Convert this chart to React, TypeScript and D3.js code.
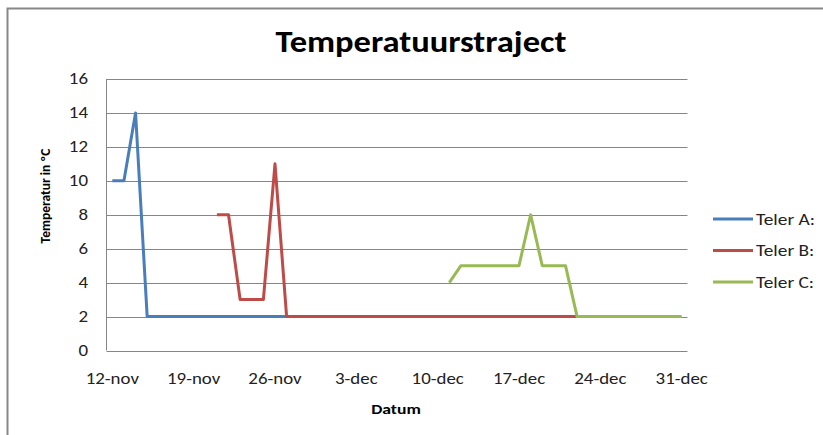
import React from "react";
import * as d3 from "d3";

const tickDates = ["2012-11-12", "2012-11-19", "2012-11-26", "2012-12-03", "2012-12-10", "2012-12-17", "2012-12-24", "2012-12-31"];
const tickLabels = ["12-nov", "19-nov", "26-nov", "3-dec", "10-dec", "17-dec", "24-dec", "31-dec"];
const yTicks = [0, 2, 4, 6, 8, 10, 12, 14, 16];

const telerADates = ["2012-11-12", "2012-11-13", "2012-11-14", "2012-11-15", "2012-11-27"];
const telerAValues = [10, 10, 14, 2, 2];
const telerBDates = ["2012-11-21", "2012-11-22", "2012-11-23", "2012-11-25", "2012-11-26", "2012-11-27", "2012-12-22"];
const telerBValues = [8, 8, 3, 3, 11, 2, 2];
const telerCDates = ["2012-12-11", "2012-12-12", "2012-12-17", "2012-12-18", "2012-12-19", "2012-12-21", "2012-12-22", "2012-12-31"];
const telerCValues = [4, 5, 5, 8, 5, 5, 2, 2];

const seriesNames = ["Teler A:", "Teler B:", "Teler C:"];
const seriesColors = ["#4A7EBB", "#BE4B48", "#98B954"];

const parse = d3.timeParse("%Y-%m-%d");
const font = "Calibri, Carlito, 'Open Sans', sans-serif";

function T(props: { x: number; y: number; sx: number; size: number; anchor?: string; bold?: boolean; fill?: string; children: React.ReactNode }) {
  return (
    <text
      transform={`translate(${props.x},${props.y}) scale(${props.sx},1)`}
      textAnchor={props.anchor || "start"}
      fontFamily={font}
      fontWeight={props.bold ? "bold" : "normal"}
      fontSize={props.size}
      fill={props.fill || "#222"}
    >
      {props.children}
    </text>
  );
}

export default function App() {
  const W = 823, H = 435;
  const first = parse(tickDates[0])!;
  const last = parse(tickDates[tickDates.length - 1])!;
  const x = d3.scaleTime()
    .domain([d3.timeHour.offset(first, -12), d3.timeHour.offset(last, 12)])
    .range([106.5, 687.5]);
  const y = d3.scaleLinear().domain([0, 16]).range([350.5, 79]);

  const series = [
    { dates: telerADates, values: telerAValues },
    { dates: telerBDates, values: telerBValues },
    { dates: telerCDates, values: telerCValues },
  ].map((s) => s.dates.map((d, i) => ({ date: parse(d)!, v: s.values[i] })));

  const line = d3.line<{ date: Date; v: number }>()
    .x((p) => x(p.date))
    .y((p) => y(p.v));

  const [x0, x1] = x.range();

  return (
    <svg width={W} height={H} style={{ position: "absolute", left: 0, top: 0, display: "block" }}>
      <rect x={0} y={0} width={W} height={H} fill="#fff" />
      <path d={`M7.5,${H + 5}V8.5H${W + 5}`} fill="none" stroke="#878787" strokeWidth={2} />
      <T x={421} y={52} sx={1.15} size={30} anchor="middle" bold fill="#000">Temperatuurstraject</T>
      {yTicks.map((t) => (
        <g key={t}>
          <line x1={x0} x2={x1} y1={Math.round(y(t)) + 0.5} y2={Math.round(y(t)) + 0.5} stroke="#868686" strokeWidth={1} />
          <T x={88} y={y(t) + 5} sx={1.22} size={15.5} anchor="end">{t}</T>
        </g>
      ))}
      <line x1={x0} x2={x0} y1={y(16)} y2={y(0)} stroke="#868686" strokeWidth={1} />
      {tickDates.map((d, i) => (
        <T key={d} x={x(parse(d)!)} y={384} sx={1.22} size={15.5} anchor="middle">{tickLabels[i]}</T>
      ))}
      <T x={396} y={414} sx={1.22} size={14.5} anchor="middle" bold fill="#000">Datum</T>
      <text transform="translate(50,196) rotate(-90)" textAnchor="middle" fontFamily={font} fontWeight="bold" fontSize={13.5} fill="#000">
        Temperatur in ºC
      </text>
      {series.map((s, i) => (
        <path key={i} d={line(s) || ""} fill="none" stroke={seriesColors[i]} strokeWidth={3} strokeLinejoin="round" />
      ))}
      {seriesNames.map((n, i) => (
        <g key={n}>
          <line x1={713} x2={753} y1={219 + i * 31.5} y2={219 + i * 31.5} stroke={seriesColors[i]} strokeWidth={3} />
          <T x={756} y={224.5 + i * 31.5} sx={1.25} size={15.5}>{n}</T>
        </g>
      ))}
    </svg>
  );
}
